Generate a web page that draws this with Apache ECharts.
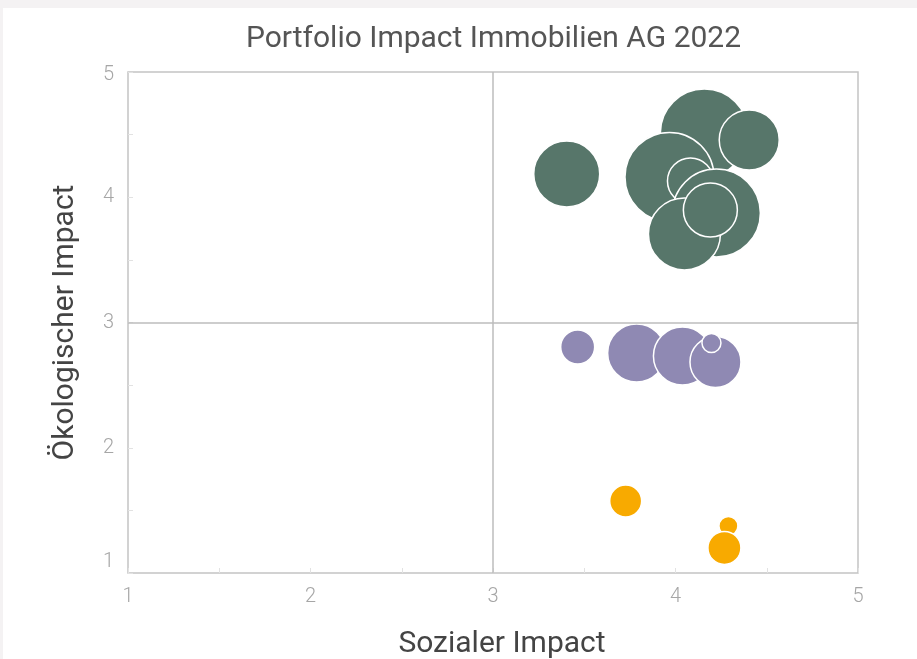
<!DOCTYPE html>
<html>
<head>
<meta charset="utf-8">
<script src="https://cdn.jsdelivr.net/npm/echarts@6/dist/echarts.min.js"></script>
<style>
  html, body { margin: 0; padding: 0; background: #f4f2f3; }
  #chart { position: absolute; left: 3px; top: 8px; width: 914px; height: 651px; background: #fff; }
</style>
</head>
<body>
<div id="chart"></div>
<script>
// [sozial, oekologisch, groesse]
const green = [
  [4.158, 4.513, 44],
  [4.404, 4.457, 30],
  [3.404, 4.186, 33],
  [3.967, 4.162, 44.5],
  [4.082, 4.130, 23],
  [4.224, 3.874, 44],
  [4.049, 3.707, 36],
  [4.191, 3.898, 27]
];
const purple = [
  [3.464, 2.804, 17],
  [3.787, 2.756, 29],
  [4.038, 2.733, 29],
  [4.219, 2.685, 25.5],
  [4.197, 2.836, 9.5]
];
const orange = [
  [3.727, 1.575, 16],
  [4.290, 1.375, 9.5],
  [4.268, 1.200, 16.5]
];
const tickLabels = ['1', '2', '3', '4', '5'];

const myChart = echarts.init(document.getElementById('chart'));

const labelStyle = {
  color: '#a6a6a6',
  fontFamily: 'Roboto',
  fontWeight: 300,
  fontSize: 20
};

function bubbles(data, color) {
  return {
    type: 'scatter',
    data: data,
    symbolSize: function (v) { return v[2] * 2; },
    itemStyle: {
      color: color,
      opacity: 1,
      borderColor: '#fff',
      borderWidth: 1.5
    },
    emphasis: { disabled: true }
  };
}

const option = {
  animation: false,
  title: {
    text: 'Portfolio Impact Immobilien AG 2022',
    left: 238,
    top: 11,
    textStyle: { color: '#555', fontFamily: 'Roboto', fontWeight: 400, fontSize: 30 }
  },
  grid: {
    left: 125,
    right: 59,
    top: 64,
    bottom: 86,
    outerBoundsMode: 'none',
    containLabel: false,
    show: true,
    borderColor: '#c4c4c4',
    borderWidth: 1.5
  },
  xAxis: {
    type: 'value',
    min: 1,
    max: 5,
    interval: 0.5,
    name: 'Sozialer Impact',
    nameLocation: 'middle',
    nameGap: 56,
    nameTextStyle: { color: '#444', fontFamily: 'Roboto', fontSize: 30, padding: [0, 0, 0, 18] },
    axisLine: { show: false },
    axisTick: { show: true, inside: true, length: 5, lineStyle: { color: '#e2e2e2' } },
    splitLine: { show: false },
    axisLabel: Object.assign({
      margin: 14,
      formatter: function (v) { return Number.isInteger(v) ? tickLabels[v - 1] : ''; }
    }, labelStyle)
  },
  yAxis: {
    type: 'value',
    min: 1,
    max: 5,
    interval: 0.5,
    name: 'Ökologischer Impact',
    nameLocation: 'middle',
    nameGap: 48,
    nameTextStyle: { color: '#444', fontFamily: 'Roboto', fontSize: 30 },
    axisLine: { show: false },
    axisTick: { show: true, inside: true, length: 5, lineStyle: { color: '#e2e2e2' } },
    splitLine: { show: false },
    axisLabel: Object.assign({
      margin: 14,
      formatter: function (v) {
        if (!Number.isInteger(v)) return '';
        if (v === 1) return '{lo|' + tickLabels[0] + '}';
        if (v === 5) return '{hi|' + tickLabels[4] + '}';
        return tickLabels[v - 1];
      },
      rich: {
        lo: { padding: [0, 0, 22, 0], color: '#a6a6a6', fontFamily: 'Roboto', fontWeight: 300, fontSize: 20 },
        hi: { padding: [6, 0, 0, 0], color: '#a6a6a6', fontFamily: 'Roboto', fontWeight: 300, fontSize: 20 }
      }
    }, labelStyle)
  },
  series: [
    {
      type: 'scatter',
      data: [],
      markLine: {
        silent: true,
        symbol: 'none',
        label: { show: false },
        lineStyle: { color: '#bdbdbd', width: 1.5, type: 'solid' },
        data: [{ xAxis: 3 }, { yAxis: 3 }]
      }
    },
    bubbles(green, '#57766a'),
    bubbles(purple, '#8f89b3'),
    bubbles(orange, '#f8aa00')
  ]
};

myChart.setOption(option);
</script>
</body>
</html>
